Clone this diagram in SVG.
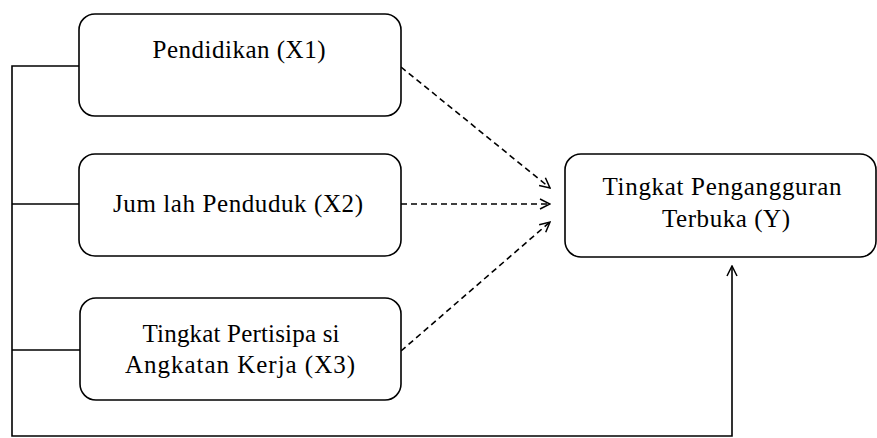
<svg xmlns="http://www.w3.org/2000/svg" width="877" height="438" viewBox="0 0 877 438">
<style>
.box{fill:#fff;stroke:#000;stroke-width:1.6}
.t{font-family:"Liberation Serif","Times New Roman",serif;font-size:25px;fill:#000;text-anchor:middle}
.ln{fill:none;stroke:#000;stroke-width:1.6}
.ds{fill:none;stroke:#000;stroke-width:1.6;stroke-dasharray:6 4}
</style>
<defs>
<marker id="ah" viewBox="0 0 12 12" refX="11" refY="6" markerWidth="12" markerHeight="12" markerUnits="userSpaceOnUse" orient="auto">
<path d="M1,1 L11,6 L1,11" fill="none" stroke="#000" stroke-width="1.5"/>
</marker>
</defs>
<g id="connectors">
<polyline class="ln" points="79,66 12,66 12,436 732,436 732,266" marker-end="url(#ah)"/>
<line class="ln" x1="12" y1="204" x2="79" y2="204"/>
<line class="ln" x1="12" y1="350" x2="80" y2="350"/>
<line class="ds" x1="401" y1="67" x2="550" y2="188" marker-end="url(#ah)"/>
<line class="ds" x1="401" y1="204" x2="550" y2="204" marker-end="url(#ah)"/>
<line class="ds" x1="401" y1="351" x2="550" y2="222" marker-end="url(#ah)"/>
</g>
<g id="x1">
<rect class="box" x="79" y="14" width="322" height="102" rx="16"/>
<text class="t" x="239" y="58" textLength="173" lengthAdjust="spacing">Pendidikan (X1)</text>
</g>
<g id="x2">
<rect class="box" x="79" y="154" width="322" height="102" rx="16"/>
<text class="t" x="238" y="212" textLength="250" lengthAdjust="spacing">Jum lah Penduduk (X2)</text>
</g>
<g id="x3">
<rect class="box" x="80" y="298" width="321" height="102" rx="16"/>
<text class="t" x="241" y="342" textLength="197" lengthAdjust="spacing">Tingkat Pertisipa si</text>
<text class="t" x="240" y="373" textLength="230" lengthAdjust="spacing">Angkatan Kerja  (X3)</text>
</g>
<g id="y">
<rect class="box" x="565" y="154" width="311" height="103" rx="16"/>
<text class="t" x="722" y="195" textLength="239" lengthAdjust="spacing">Tingkat Pengangguran</text>
<text class="t" x="726" y="227" textLength="128" lengthAdjust="spacing">Terbuka (Y)</text>
</g>
</svg>
